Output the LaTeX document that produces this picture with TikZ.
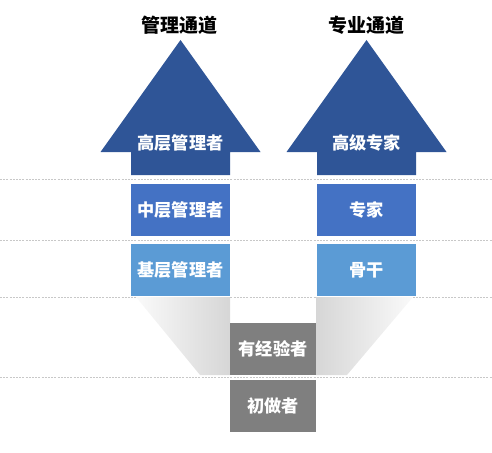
\documentclass[tikz,border=0pt]{standalone}
\usepackage{fontspec}
\newfontfamily\cjk{Noto Sans CJK SC}
\definecolor{topblue}{HTML}{2F5597}
\definecolor{midblue}{HTML}{4472C4}
\definecolor{lowblue}{HTML}{5B9BD5}
\definecolor{boxgray}{HTML}{7F7F7F}
\definecolor{guide}{HTML}{C8C8C8}
\tikzset{
  title/.style={font=\cjk\bfseries\fontsize{19}{21}\selectfont, text=black, inner sep=0pt},
  lvl/.style={font=\cjk\bfseries\fontsize{17.2}{19}\selectfont, text=white, inner sep=0pt, minimum width=99pt, minimum height=52pt},
  lvlgray/.style={lvl, fill=boxgray, minimum width=86pt},
  guideline/.style={draw=guide, line width=0.7pt, dash pattern=on 2pt off 1.2pt},
  arrowbody/.style={fill=topblue},
}
\begin{document}
\begin{tikzpicture}[x=1pt,y=-1pt]
\useasboundingbox (0,0) rectangle (492,452);
% guide lines
\coordinate (g1l) at (0,179); \coordinate (g1r) at (492,179);
\coordinate (g2l) at (0,240); \coordinate (g2r) at (492,240);
\coordinate (g3l) at (0,297); \coordinate (g3r) at (492,297);
\coordinate (g4l) at (0,377); \coordinate (g4r) at (492,377);
\draw[guideline] (g1l) -- (g1r);
\draw[guideline] (g2l) -- (g2r);
\draw[guideline] (g3l) -- (g3r);
\draw[guideline] (g4l) -- (g4r);
% funnels
\shade[left color=gray!4, right color=gray!32] (136,297) -- (230,297) -- (230,375) -- (200,375) -- cycle;
\shade[left color=gray!32, right color=gray!4] (316,297) -- (413,297) -- (347,375) -- (316,375) -- cycle;
% arrows
\fill[arrowbody] (180.5,40) -- (260.5,152) -- (230,152) -- (230,175) -- (131,175) -- (131,152) -- (100.5,152) -- cycle;
\fill[arrowbody] (366.5,40) -- (446.5,152) -- (416,152) -- (416,175) -- (317,175) -- (317,152) -- (286.5,152) -- cycle;
% titles
\node[title] (t1) at (179.5,25) {管理通道};
\node[title] (t2) at (366,25) {专业通道};
% levels
\node[lvl, minimum height=0pt, minimum width=0pt] (top1) at (180.5,143) {高层管理者};
\node[lvl, minimum height=0pt, minimum width=0pt] (top2) at (366.5,143) {高级专家};
\node[lvl, fill=midblue] (mid1) at (180.5,210) {中层管理者};
\node[lvl, fill=midblue] (mid2) at (366.5,210) {专家};
\node[lvl, fill=lowblue] (low1) at (180.5,270) {基层管理者};
\node[lvl, fill=lowblue] (low2) at (366.5,270) {骨干};
\node[lvlgray] (exp) at (273,349) {有经验者};
\node[lvlgray] (new) at (273,406) {初做者};
\end{tikzpicture}
\end{document}
